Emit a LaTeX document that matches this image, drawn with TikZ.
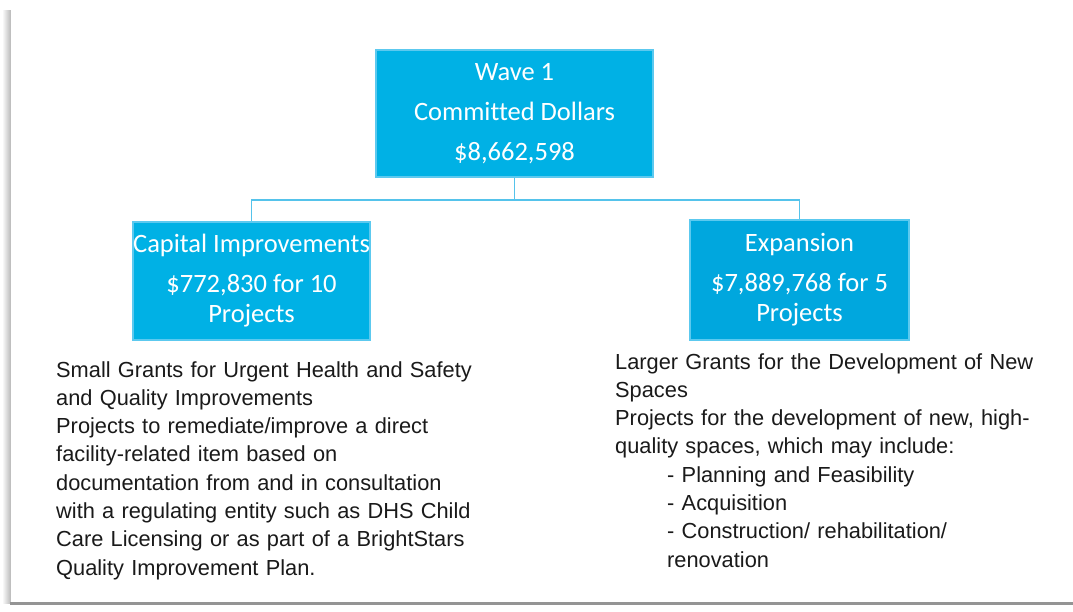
\documentclass[tikz,border=0pt]{standalone}
\usepackage{fontspec}
\setmainfont{Liberation Sans}
\newfontfamily\boxfont[Ligatures=NoCommon]{Carlito}
\definecolor{boxA}{HTML}{00B1E5}
\definecolor{boxB}{HTML}{00A7DE}
\definecolor{boxedge}{HTML}{5CC9EF}
\definecolor{linkc}{HTML}{55C3EB}
\definecolor{txt}{HTML}{1A1A1A}
\tikzset{
  x=1pt, y=-1pt,
  bluebox/.style={draw=boxedge, line width=1.2pt, fill=boxA, text=white, align=center, inner sep=0pt,
     font=\boxfont\fontsize{26.5}{30}\selectfont},
  link/.style={draw=linkc, line width=1.8pt},
  body/.style={text=txt, align=left, inner sep=0pt, text width=460pt,
     font=\fontsize{21.8}{28.3}\selectfont},
}
\begin{document}
\begin{tikzpicture}
\useasboundingbox (0,0) rectangle (1073,611);
% page frame with shadow
\shade[left color=white, right color=black!25] (2,10) rectangle (10,603);
\fill[white] (10,10) rectangle (1073,602);
\draw[black!25, line width=0.8pt] (10,10) -- (10,602);
\draw[black!42, line width=3pt] (10,603.5) -- (1073,603.5);

\node[bluebox, minimum width=277pt, minimum height=127pt] (top) at (514.5,113.5)
  {Wave 1\\[10pt]Committed Dollars\\[10pt]\$8,662,598};
\node[bluebox, minimum width=237pt, minimum height=118pt] (cap) at (251.5,281)
  {Capital Improvements\\[10pt]\$772,830 for 10\\Projects};
\node[bluebox, fill=boxB, minimum width=219pt, minimum height=120pt] (exp) at (799.5,280)
  {Expansion\\[10pt]\$7,889,768 for 5\\Projects};

\coordinate (mid) at (514.5,200);
\draw[link] (top.south) -- (mid) -| (cap.north);
\draw[link] (mid) -| (exp.north);

\node[body, anchor=base west] (ltext) at (56,377)
  {Small Grants for Urgent Health and Safety\\
   and Quality Improvements\\
   Projects to remediate/improve a direct\\
   facility-related item based on\\
   documentation from and in consultation\\
   with a regulating entity such as DHS Child\\
   Care Licensing or as part of a BrightStars\\
   Quality Improvement Plan.};
\node[body, anchor=base west] (rtext) at (615,369)
  {Larger Grants for the Development of New\\
   Spaces\\
   Projects for the development of new, high-\\
   quality spaces, which may include:\\
   \hspace*{52pt}- Planning and Feasibility\\
   \hspace*{52pt}- Acquisition\\
   \hspace*{52pt}- Construction/ rehabilitation/\\
   \hspace*{52pt}renovation};
\end{tikzpicture}
\end{document}
